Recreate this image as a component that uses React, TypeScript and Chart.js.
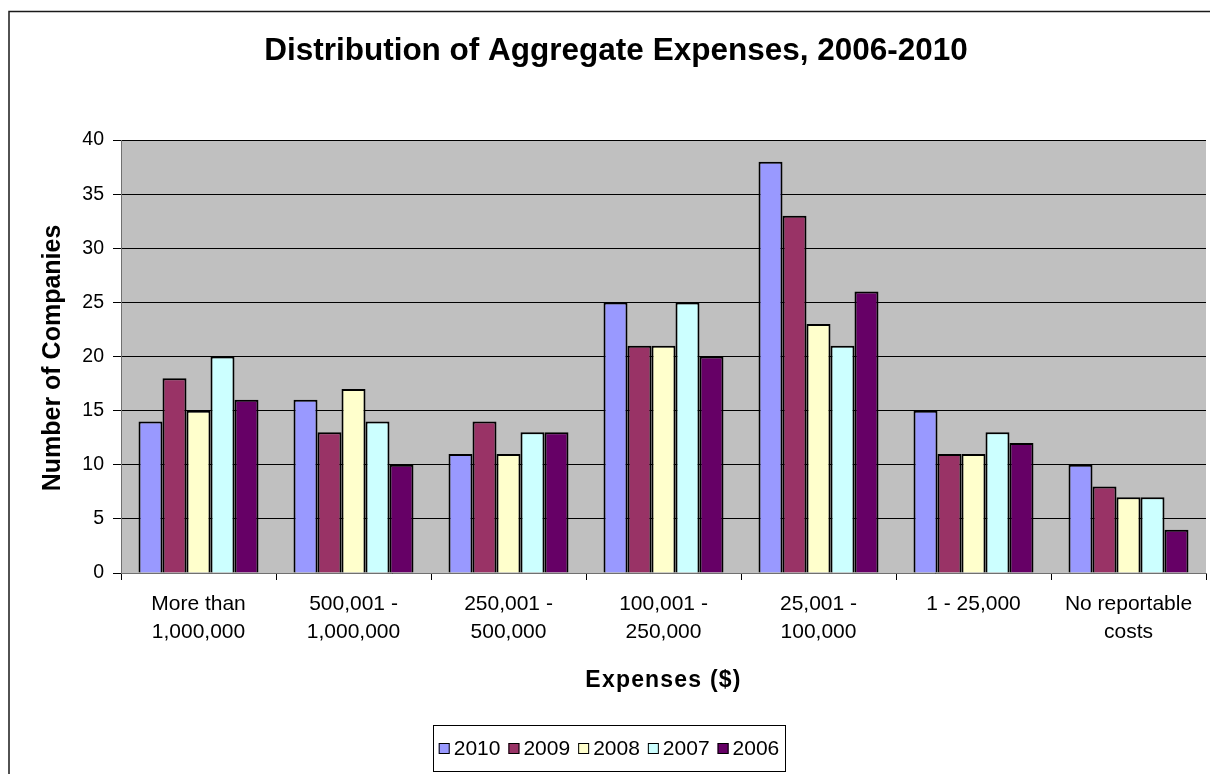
import { useEffect, useRef } from "react";
import { Chart, registerables } from "chart.js";

Chart.register(...registerables);

const categories: string[][] = [
  ["More than", "1,000,000"],
  ["500,001 -", "1,000,000"],
  ["250,001 -", "500,000"],
  ["100,001 -", "250,000"],
  ["25,001 -", "100,000"],
  ["1 - 25,000"],
  ["No reportable", "costs"],
];
const years = ["2010", "2009", "2008", "2007", "2006"];
const v2010 = [14, 16, 11, 25, 38, 15, 10];
const v2009 = [18, 13, 14, 21, 33, 11, 8];
const v2008 = [15, 17, 11, 21, 23, 11, 7];
const v2007 = [20, 14, 13, 25, 21, 13, 7];
const v2006 = [16, 10, 13, 20, 26, 12, 4];
const seriesValues = [v2010, v2009, v2008, v2007, v2006];
const colors = ["#9999FF", "#993366", "#FFFFCC", "#CCFFFF", "#660066"];

const titleText = "Distribution of Aggregate Expenses, 2006-2010";
const yTitle = "Number of Companies";
const xTitle = "Expenses ($)";

const FONT = "'Liberation Sans', Arial, sans-serif";
const W = 1210;
const H = 774;

const decor = {
  id: "decor",
  beforeDraw(chart: any) {
    const { ctx, chartArea: a } = chart;
    ctx.save();
    ctx.fillStyle = "#ffffff";
    ctx.fillRect(0, 0, W, H);
    ctx.fillStyle = "#C0C0C0";
    ctx.fillRect(a.left, a.top, a.right - a.left, a.bottom - a.top);
    ctx.restore();
  },
  afterDraw(chart: any) {
    const { ctx, chartArea: a } = chart;
    ctx.save();
    // frame
    ctx.strokeStyle = "#1a1a1a";
    ctx.lineWidth = 1.5;
    ctx.beginPath();
    ctx.moveTo(9, H + 5);
    ctx.lineTo(9, 11.5);
    ctx.lineTo(W + 5, 11.5);
    ctx.stroke();

    // title
    ctx.fillStyle = "#000";
    ctx.textAlign = "center";
    ctx.textBaseline = "middle";
    ctx.font = `bold 31.5px ${FONT}`;
    ctx.fillText(titleText, 616, 51);

    // y title
    ctx.save();
    ctx.translate(53, 358);
    ctx.rotate(-Math.PI / 2);
    ctx.font = `bold 25px ${FONT}`;
    ctx.fillText(yTitle, 0, 0);
    ctx.restore();

    // x title
    ctx.save();
    ctx.font = `bold 23px ${FONT}`;
    (ctx as any).letterSpacing = "1.2px";
    ctx.fillText(xTitle, (a.left + a.right) / 2, 681);
    ctx.restore();

    // legend
    ctx.font = `21px ${FONT}`;
    const sq = 11;
    const gap = 4;
    const spacing = 8;
    const widths = years.map((y) => ctx.measureText(y).width);
    let total = 0;
    widths.forEach((w, i) => {
      total += sq + gap + w + (i < widths.length - 1 ? spacing : 0);
    });
    const cx = 609;
    const boxL = 433;
    const boxR = 785;
    const boxT = 725.5;
    const boxB = 771.5;
    ctx.strokeStyle = "#000";
    ctx.lineWidth = 1;
    ctx.strokeRect(boxL + 0.5, boxT, boxR - boxL, boxB - boxT);
    let x = cx - total / 2;
    const cy = (boxT + boxB) / 2;
    ctx.textAlign = "left";
    years.forEach((y, i) => {
      ctx.fillStyle = colors[i];
      ctx.fillRect(x, cy - sq / 2, sq, sq);
      ctx.strokeStyle = "#000";
      ctx.lineWidth = 1;
      ctx.strokeRect(x + 0.5, cy - sq / 2 + 0.5, sq - 1, sq - 1);
      ctx.fillStyle = "#000";
      ctx.fillText(y, x + sq + gap, cy + 1);
      x += sq + gap + widths[i] + spacing;
    });
    ctx.restore();
  },
};

export default function App() {
  const ref = useRef<HTMLCanvasElement | null>(null);
  useEffect(() => {
    if (!ref.current) return;
    const padLeft = 10;
    const chart = new Chart(ref.current, {
      type: "bar",
      data: {
        labels: categories,
        datasets: years.map((y, i) => ({
          label: y,
          data: seriesValues[i],
          backgroundColor: colors[i],
          borderColor: "#000",
          borderWidth: 2,
          categoryPercentage: 0.774,
          barPercentage: 1,
        })),
      },
      options: {
        animation: false,
        responsive: false,
        devicePixelRatio: 1,
        layout: { padding: { left: padLeft, top: 140, right: 4, bottom: 0 } },
        plugins: {
          legend: { display: false },
          title: { display: false },
          tooltip: { enabled: false },
        },
        scales: {
          x: {
            offset: true,
            grid: {
              display: true,
              drawOnChartArea: false,
              drawTicks: true,
              tickLength: 7,
              tickColor: "#000",
              offset: true,
            },
            border: { color: "#707070", width: 1 },
            ticks: {
              color: "#000",
              font: { family: FONT, size: 21, lineHeight: 1.33 },
              padding: 10,
              maxRotation: 0,
              autoSkip: false,
            },
            afterFit: (s: any) => {
              s.height = H - 573;
            },
          },
          y: {
            min: 0,
            max: 40,
            ticks: {
              stepSize: 5,
              color: "#000",
              font: { family: FONT, size: 19.5 },
              padding: 9,
            },
            grid: {
              color: "#000",
              lineWidth: 1,
              tickLength: 8,
              tickColor: "#000",
            },
            border: { color: "#707070", width: 1 },
            afterFit: (s: any) => {
              s.width = 121 - padLeft;
            },
          },
        },
      },
      plugins: [decor],
    });
    return () => chart.destroy();
  }, []);
  return (
    <div style={{ position: "absolute", left: 0, top: 0, width: W, height: H }}>
      <canvas ref={ref} width={W} height={H} style={{ display: "block", width: W, height: H }} />
    </div>
  );
}
